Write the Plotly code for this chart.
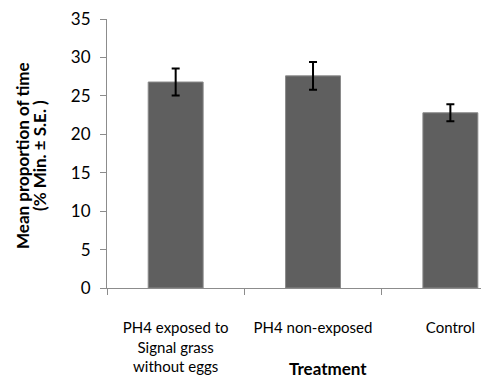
import plotly.graph_objects as go

# Mean proportion of time per treatment, with standard errors
treatments = ["PH4 exposed to<br>Signal grass<br>without eggs", "PH4 non-exposed", "Control"]
mean_time = [26.8, 27.6, 22.8]
std_err = [1.75, 1.8, 1.1]

y_ticks = [0, 5, 10, 15, 20, 25, 30, 35]

FONT = "Lato"
AXIS_GREY = "#8c8c8c"

fig = go.Figure(
    go.Bar(
        x=treatments,
        y=mean_time,
        marker=dict(color="#5f5f5f", line=dict(color="#8a8a8a", width=1)),
        error_y=dict(type="data", array=std_err, visible=True,
                     color="#000000", thickness=2, width=4),
        width=0.4,
    )
)

fig.update_layout(
    width=481,
    height=385,
    margin=dict(l=107, r=0, t=19, b=97),
    paper_bgcolor="white",
    plot_bgcolor="white",
    showlegend=False,
    font=dict(family=FONT, size=15, color="#000000"),
)

fig.update_xaxes(
    range=[-0.5, 2.223],
    showline=True,
    linecolor=AXIS_GREY,
    linewidth=1,
    ticks="outside",
    tickson="boundaries",
    ticklen=6,
    tickcolor=AXIS_GREY,
    ticklabelstandoff=26,
    showgrid=False,
    tickfont=dict(family=FONT, size=15),
)

fig.update_yaxes(
    range=[0, 35],
    tickvals=y_ticks,
    showline=True,
    linecolor=AXIS_GREY,
    linewidth=1,
    ticks="outside",
    ticklen=6,
    tickcolor=AXIS_GREY,
    ticklabelstandoff=6,
    showgrid=False,
    zeroline=False,
    tickfont=dict(family=FONT, size=17),
)

# Y-axis title, two rotated lines
plot_w, plot_h = 374, 269
for text, px in [("<b>Mean proportion of time</b>", 22), ("<b>(% Min. ± S.E. )</b>", 39)]:
    fig.add_annotation(
        text=text,
        xref="paper", yref="paper",
        x=(px - 107) / plot_w, y=(385 - 97 - 156) / plot_h,
        xanchor="center", yanchor="middle",
        textangle=-90, showarrow=False,
        font=dict(family=FONT, size=17),
    )

fig.add_annotation(
    text="<b>Treatment</b>",
    xref="paper", yref="paper",
    x=(328 - 107) / plot_w, y=-(368 - 288) / plot_h,
    xanchor="center", yanchor="middle",
    showarrow=False,
    font=dict(family=FONT, size=17),
)

fig.write_html("out.html")
